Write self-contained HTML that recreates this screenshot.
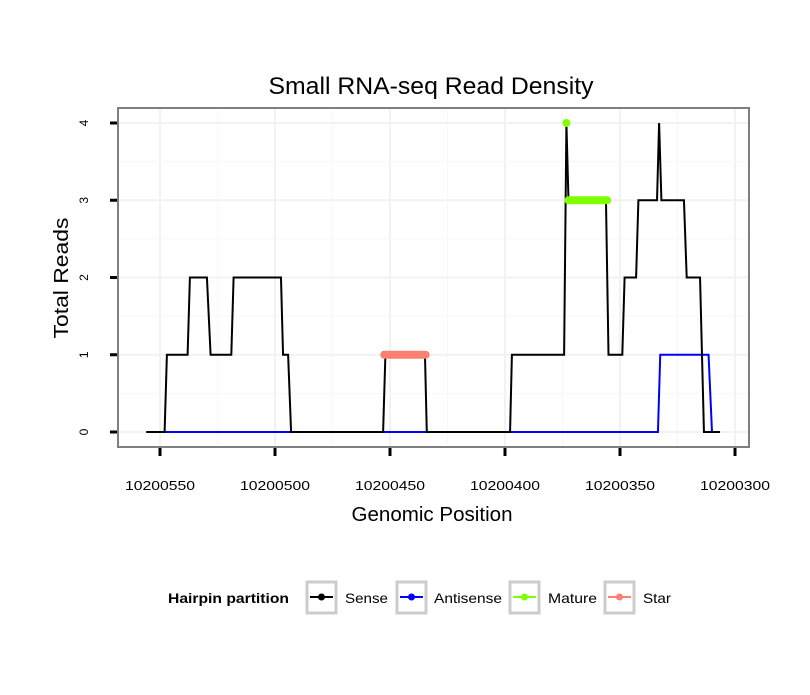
<!DOCTYPE html>
<html><head><meta charset="utf-8"><style>
body{margin:0;background:#fff;}
svg text{font-family:"Liberation Sans",sans-serif;}
</style></head><body>
<svg id="chart" width="810" height="690" xmlns="http://www.w3.org/2000/svg">
<rect width="810" height="690" fill="#fff"/>
<text x="431" y="94" font-size="24" text-anchor="middle" textLength="325" lengthAdjust="spacingAndGlyphs">Small RNA-seq Read Density</text>
<g id="grid"></g>
<g id="series"></g>
<rect x="118" y="108" width="631" height="339" fill="none" stroke="#7f7f7f" stroke-width="2"/>
<g id="axes"></g>
<text x="432" y="521" font-size="20" text-anchor="middle" textLength="161" lengthAdjust="spacingAndGlyphs">Genomic Position</text>
<text transform="translate(68,278) rotate(-90)" font-size="20" text-anchor="middle" textLength="121" lengthAdjust="spacingAndGlyphs">Total Reads</text>
<g>
<text x="168" y="603" font-size="14" font-weight="bold" textLength="121" lengthAdjust="spacingAndGlyphs">Hairpin partition</text>
<g>
<rect x="307" y="582" width="29" height="31" fill="#fff" stroke="#cccccc" stroke-width="3"/>
<line x1="310" y1="597" x2="333" y2="597" stroke="#000" stroke-width="2"/><circle cx="321.5" cy="597" r="3.5" fill="#000"/>
<text x="345" y="603" font-size="14" textLength="43" lengthAdjust="spacingAndGlyphs">Sense</text></g>
<g>
<rect x="397" y="582" width="29" height="31" fill="#fff" stroke="#cccccc" stroke-width="3"/>
<line x1="400" y1="597" x2="423" y2="597" stroke="#0000ff" stroke-width="2"/><circle cx="411.5" cy="597" r="3.5" fill="#0000ff"/>
<text x="434" y="603" font-size="14" textLength="68" lengthAdjust="spacingAndGlyphs">Antisense</text></g>
<g>
<rect x="510" y="582" width="29" height="31" fill="#fff" stroke="#cccccc" stroke-width="3"/>
<line x1="513" y1="597" x2="536" y2="597" stroke="#7fff00" stroke-width="2"/><circle cx="524.5" cy="597" r="3.5" fill="#7fff00"/>
<text x="548" y="603" font-size="14" textLength="49" lengthAdjust="spacingAndGlyphs">Mature</text></g>
<g>
<rect x="605" y="582" width="29" height="31" fill="#fff" stroke="#cccccc" stroke-width="3"/>
<line x1="608" y1="597" x2="631" y2="597" stroke="#fa8072" stroke-width="2"/><circle cx="619.5" cy="597" r="3.5" fill="#fa8072"/>
<text x="643" y="603" font-size="14" textLength="28" lengthAdjust="spacingAndGlyphs">Star</text></g>
</g>
</svg>
<script>
const xTicks = [10200550, 10200500, 10200450, 10200400, 10200350, 10200300];
const yTicks = [0, 1, 2, 3, 4];
const senseX = [10200556,10200548,10200547,10200538,10200537,10200529.6,10200528,10200519,10200518,10200497.4,10200496.5,10200494.3,10200493,10200453,10200452,10200434.8,10200434,10200397.8,10200397,10200374.3,10200373.3,10200372.4,10200356.1,10200355,10200349,10200348,10200343,10200342,10200333.9,10200333,10200332,10200322.2,10200321,10200315.2,10200313.5,10200306.5];
const senseY = [0,0,1,1,2,2,1,1,2,2,1,1,0,0,1,1,0,0,1,1,4,3,3,1,1,2,2,3,3,4,3,3,2,2,0,0];
const antiX = [10200548,10200333.5,10200332.5,10200311.5,10200310];
const antiY = [0,0,1,1,0];
const matureDotX = [10200373.3];
const matureDotY = [4];
const matureX = [10200372.4,10200355.6];
const matureY = [3,3];
const starX = [10200452.5,10200434.5];
const starY = [1,1];

const NS="http://www.w3.org/2000/svg";
const sx = v => 160 + (10200550 - v) * 2.3;
const sy = v => 432 - v * 77.25;
function mk(parent, tag, attrs){const e=document.createElementNS(NS,tag);for(const k in attrs)e.setAttribute(k,attrs[k]);document.getElementById(parent).appendChild(e);return e;}

for(let i=0;i<xTicks.length;i++){
  const l=mk('grid','line',{x1:sx(xTicks[i]),x2:sx(xTicks[i]),y1:108,y2:447,stroke:'#f2f2f2','stroke-width':2});
  
  
  if(i<xTicks.length-1){
    const m=(xTicks[i]+xTicks[i+1])/2;
    const l2=mk('grid','line',{x1:sx(m),x2:sx(m),y1:108,y2:447,stroke:'#f7f7f7','stroke-width':1});
    
    
  }
}
for(let i=0;i<yTicks.length;i++){
  const l=mk('grid','line',{x1:118,x2:749,y1:sy(yTicks[i]),y2:sy(yTicks[i]),stroke:'#f2f2f2','stroke-width':2});
  
  
  if(i<yTicks.length-1){
    const m=(yTicks[i]+yTicks[i+1])/2;
    const l2=mk('grid','line',{x1:118,x2:749,y1:sy(m),y2:sy(m),stroke:'#f7f7f7','stroke-width':1});
    
    
  }
}
xTicks.forEach(v=>{
  const t=mk('axes','line',{x1:sx(v),x2:sx(v),y1:448,y2:456,stroke:'#000','stroke-width':3});
  
  
  const tx=mk('axes','text',{x:sx(v),y:490,'font-size':13,'text-anchor':'middle',textLength:70,lengthAdjust:'spacingAndGlyphs'});
  tx.textContent=v;
  
  
});
yTicks.forEach(v=>{
  const t=mk('axes','line',{x1:110,x2:117,y1:sy(v),y2:sy(v),stroke:'#000','stroke-width':3});
  
  
  const tx=mk('axes','text',{transform:`translate(88,${sy(v)}) rotate(-90)`,'font-size':12,'text-anchor':'middle'});
  tx.textContent=v;
  
  
});
function pts(xs,ys){return xs.map((x,i)=>sx(x)+','+sy(ys[i])).join(' ');}
const a=mk('series','polyline',{points:pts(antiX,antiY),fill:'none',stroke:'#0000ff','stroke-width':2});


const s=mk('series','polyline',{points:pts(senseX,senseY),fill:'none',stroke:'#000','stroke-width':2});


const st=mk('series','polyline',{points:pts(starX,starY),fill:'none',stroke:'#fa8072','stroke-width':8,'stroke-linecap':'round'});


const mt=mk('series','polyline',{points:pts(matureX,matureY),fill:'none',stroke:'#7fff00','stroke-width':8,'stroke-linecap':'round'});


matureDotX.forEach((x,i)=>{
  const c=mk('series','circle',{cx:sx(x),cy:sy(matureDotY[i]),r:4,fill:'#7fff00'});
  
  
});
</script>
</body></html>
